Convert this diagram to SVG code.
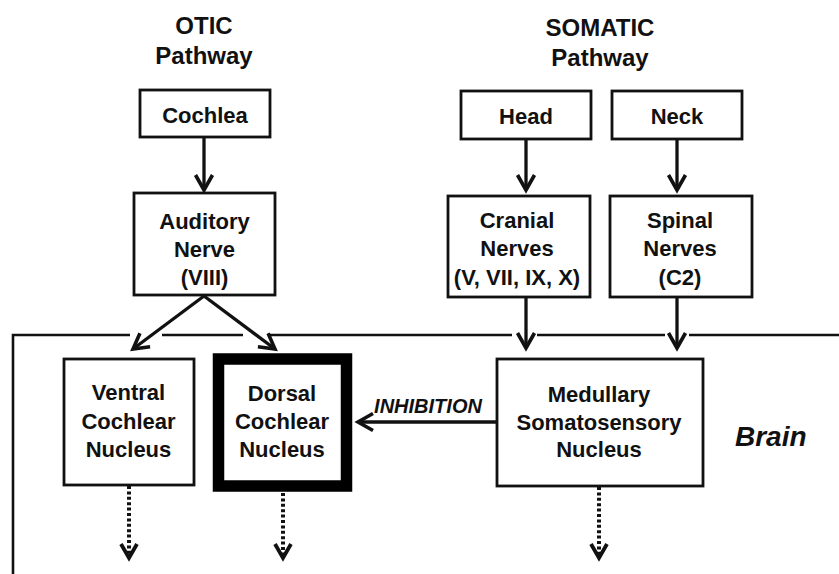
<svg xmlns="http://www.w3.org/2000/svg" width="839" height="574" viewBox="0 0 839 574">
<style>
text{font-family:"Liberation Sans",Arial,sans-serif;font-weight:bold;fill:#111;text-anchor:middle}
.h{font-size:24px}
.n{font-size:22px}
.box{fill:#fff;stroke:#111;stroke-width:2.8}
.arr{fill:none;stroke:#111;stroke-width:3.3}
.dot{fill:none;stroke:#111;stroke-width:4;stroke-dasharray:3 2.4}
.frame{fill:none;stroke:#111;stroke-width:2.6}
</style>
<defs>
<marker id="ah" markerUnits="userSpaceOnUse" markerWidth="24" markerHeight="24" viewBox="-20 -12 24 24" refX="0" refY="0" orient="auto">
<path d="M-15,-8.5 L0,0 L-15,8.5" fill="none" stroke="#111" stroke-width="3.6"/>
</marker>
<marker id="dh" markerUnits="userSpaceOnUse" markerWidth="24" markerHeight="24" viewBox="-20 -12 24 24" refX="0" refY="0" orient="auto">
<path d="M-14,-8 L0,0 L-14,8" fill="none" stroke="#111" stroke-width="3.8"/>
</marker>
</defs>
<g id="frame">
<path class="frame" d="M13,574 V335 H130 M162,335 H243 M268,335 H512 M537,335 H665 M689,335 H839"/>
</g>
<g id="headings">
<text class="h" x="204" y="34">OTIC</text>
<text class="h" x="204" y="64">Pathway</text>
<text class="h" x="600" y="36">SOMATIC</text>
<text class="h" x="600" y="66">Pathway</text>
</g>
<g id="cochlea"><rect class="box" x="140" y="90" width="130" height="47"/><text class="n" x="205" y="123">Cochlea</text></g>
<g id="head"><rect class="box" x="461" y="91" width="130" height="48"/><text class="n" x="526" y="124">Head</text></g>
<g id="neck"><rect class="box" x="612" y="91" width="130" height="48"/><text class="n" x="677" y="124">Neck</text></g>
<g id="auditory"><rect class="box" x="134" y="193" width="141" height="102"/>
<text class="n" x="204.5" y="229">Auditory</text><text class="n" x="204.5" y="257">Nerve</text><text class="n" x="204.5" y="285">(VIII)</text></g>
<g id="cranial"><rect class="box" x="448" y="196" width="142" height="101"/>
<text class="n" x="517" y="228">Cranial</text><text class="n" x="517" y="256">Nerves</text><text class="n" x="517" y="285">(V, VII, IX, X)</text></g>
<g id="spinal"><rect class="box" x="610" y="196" width="142" height="101"/>
<text class="n" x="680" y="228">Spinal</text><text class="n" x="680" y="256">Nerves</text><text class="n" x="680" y="285">(C2)</text></g>
<g id="ventral"><rect class="box" x="64" y="359" width="130" height="126"/>
<text class="n" x="128.5" y="400">Ventral</text><text class="n" x="128.5" y="429">Cochlear</text><text class="n" x="128.5" y="457">Nucleus</text></g>
<g id="dorsal"><rect x="218.5" y="359" width="128" height="127" fill="#fff" stroke="#000" stroke-width="11.5"/>
<text class="n" x="282" y="401">Dorsal</text><text class="n" x="282" y="429">Cochlear</text><text class="n" x="282" y="457">Nucleus</text></g>
<g id="medullary"><rect class="box" x="497" y="359" width="206" height="127"/>
<text class="n" x="599" y="402">Medullary</text><text class="n" x="599" y="430">Somatosensory</text><text class="n" x="599" y="457">Nucleus</text></g>
<g id="brain"><text x="735" y="446" style="font-size:28px;font-style:italic;text-anchor:start">Brain</text></g>
<g id="connectors">
<line class="arr" x1="204" y1="137" x2="204" y2="190" marker-end="url(#ah)"/>
<line class="arr" x1="526" y1="139" x2="526" y2="190" marker-end="url(#ah)"/>
<line class="arr" x1="677" y1="139" x2="677" y2="190" marker-end="url(#ah)"/>
<line class="arr" x1="526" y1="297" x2="526" y2="348" marker-end="url(#ah)"/>
<line class="arr" x1="677" y1="297" x2="677" y2="348" marker-end="url(#ah)"/>
<line class="arr" x1="204" y1="296" x2="133" y2="349" marker-end="url(#ah)"/>
<line class="arr" x1="204" y1="296" x2="275" y2="349" marker-end="url(#ah)"/>
<line class="arr" x1="496" y1="422" x2="358" y2="422" marker-end="url(#ah)"/>
<text x="428" y="413" style="font-size:20px;font-style:italic">INHIBITION</text>
<line class="dot" x1="129" y1="486" x2="129" y2="558" marker-end="url(#dh)"/>
<line class="dot" x1="283" y1="493" x2="283" y2="558" marker-end="url(#dh)"/>
<line class="dot" x1="599" y1="487" x2="599" y2="558" marker-end="url(#dh)"/>
</g>
</svg>
